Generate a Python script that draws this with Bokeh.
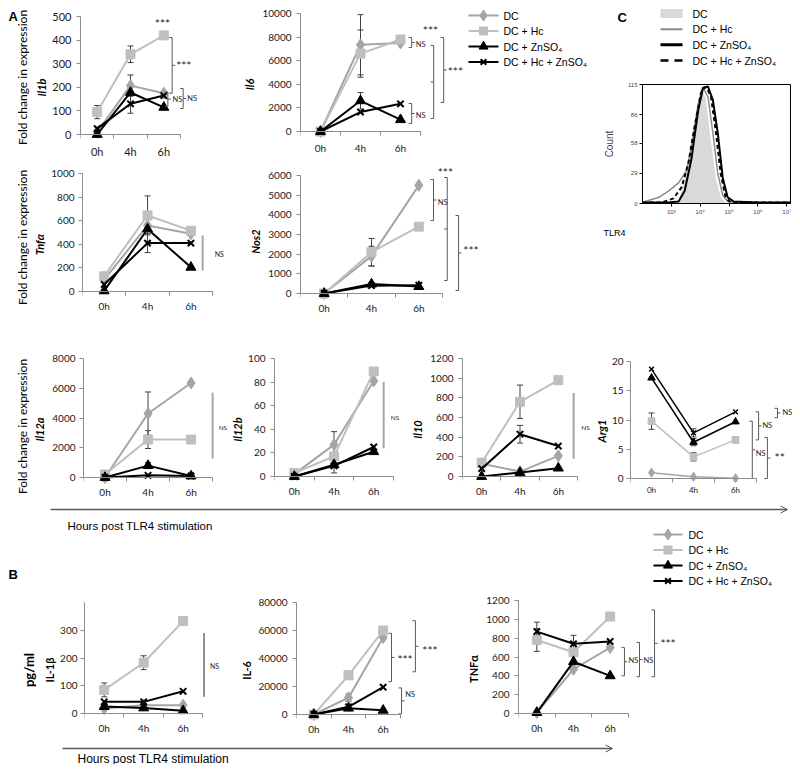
import math
from bokeh.plotting import figure
from bokeh.layouts import row, column
from bokeh.models import (Range1d, FixedTicker, Whisker, TeeHead, ColumnDataSource,
                          Label, Arrow, OpenHead, Spacer, LinearAxis, NumeralTickFormatter)
from bokeh.core.properties import value
from bokeh.embed import file_html
from bokeh.resources import INLINE

# ---------------- data ----------------
TIMES = ["0h", "4h", "6h"]
GROUPS = ["DC", "DC + Hc", "DC + ZnSO\u2084", "DC + Hc + ZnSO\u2084"]

# Panel A: fold change in expression (DC, DC+Hc, DC+ZnSO4, DC+Hc+ZnSO4)
il1b_dc = [10, 207, 175]
il1b_hc = [95, 340, 420]
il1b_zn = [0, 178, 115]
il1b_hczn = [25, 130, 165]
il1b_err = [[0, 45, 0], [28, 35, 0], [0, 0, 0], [0, 40, 0]]
il1b_ticks = [0, 100, 200, 300, 400, 500]

il6_dc = [0, 7350, 7500]
il6_hc = [0, 6600, 7800]
il6_zn = [0, 2600, 1000]
il6_hczn = [0, 1650, 2350]
il6_err = [[0, 2550, 0], [0, 2000, 0], [0, 700, 0], [0, 0, 0]]
il6_ticks = [0, 2000, 4000, 6000, 8000, 10000]

tnfa_dc = [100, 560, 490]
tnfa_hc = [130, 645, 515]
tnfa_zn = [5, 530, 205]
tnfa_hczn = [60, 410, 410]
tnfa_err = [[0, 0, 0], [0, 165, 0], [0, 0, 0], [0, 80, 0]]
tnfa_ticks = [0, 200, 400, 600, 800, 1000]

nos2_dc = [0, 1900, 5500]
nos2_hc = [0, 2100, 3400]
nos2_zn = [0, 480, 350]
nos2_hczn = [0, 400, 420]
nos2_err = [[0, 500, 0], [0, 700, 0], [0, 0, 0], [0, 0, 0]]
nos2_ticks = [0, 1000, 2000, 3000, 4000, 5000, 6000]

il12a_dc = [0, 4300, 6350]
il12a_hc = [200, 2550, 2550]
il12a_zn = [0, 800, 100]
il12a_hczn = [0, 150, 100]
il12a_err = [[0, 1450, 0], [0, 600, 0], [0, 200, 0], [0, 0, 0]]
il12a_ticks = [0, 2000, 4000, 6000, 8000]

il12b_dc = [2, 27, 81]
il12b_hc = [3, 17, 89]
il12b_zn = [0, 10, 21]
il12b_hczn = [0, 9, 25]
il12b_err = [[0, 11, 0], [0, 0, 0], [0, 0, 0], [0, 6, 0]]
il12b_ticks = [0, 20, 40, 60, 80, 100]

il10_dc = [130, 50, 210]
il10_hc = [140, 760, 980]
il10_zn = [0, 40, 85]
il10_hczn = [80, 430, 310]
il10_err = [[0, 0, 0], [40, 170, 0], [0, 0, 0], [0, 90, 0]]
il10_ticks = [0, 200, 400, 600, 800, 1000, 1200]

arg1_dc = [1.0, 0.3, 0.05]
arg1_hc = [9.8, 3.7, 6.6]
arg1_zn = [17.2, 6.2, 9.7]
arg1_hczn = [18.7, 7.8, 11.4]
arg1_err = [[0, 0, 0], [1.4, 0.7, 0], [0, 0.6, 0], [0, 0.7, 0]]
arg1_ticks = [0, 5, 10, 15, 20]

# Panel B: cytokines, pg/ml
il1bp_dc = [18, 30, 30]
il1bp_hc = [85, 183, 333]
il1bp_zn = [25, 20, 10]
il1bp_hczn = [42, 42, 80]
il1bp_err = [[0, 0, 0], [25, 25, 0], [0, 0, 0], [0, 0, 0]]
il1bp_ticks = [0, 100, 200, 300, 400]

il6p_dc = [0, 12000, 55000]
il6p_hc = [0, 28000, 60000]
il6p_zn = [0, 4500, 3000]
il6p_hczn = [0, 5500, 19500]
il6p_err = [[0, 2500, 0], [0, 2000, 0], [0, 0, 0], [0, 0, 0]]
il6p_ticks = [0, 20000, 40000, 60000, 80000]

tnfp_dc = [10, 470, 700]
tnfp_hc = [780, 650, 1030]
tnfp_zn = [10, 550, 400]
tnfp_hczn = [870, 740, 765]
tnfp_err = [[0, 0, 0], [120, 0, 0], [0, 0, 0], [100, 90, 0]]
tnfp_ticks = [0, 200, 400, 600, 800, 1000, 1200]

# Panel C: TLR4 flow histogram (intensity, count)
tlr4_dc_x = [1500, 1778, 2884, 4898, 8511, 10715, 15849, 23442, 34674, 51286, 75858, 90000]
tlr4_dc_y = [0, 3, 22, 58, 100, 113, 100, 61, 25, 6, 1, 0]
tlr4_hc_x = [100, 126, 372, 794, 1778, 3388, 4898, 8511, 12589, 18621, 27542, 40738, 60256, 89125, 13000000]
tlr4_hc_y = [1, 2, 6, 12, 20, 32, 54, 96, 112, 103, 68, 29, 8, 2, 0]
tlr4_zn_x = [100, 126, 794, 1778, 2884, 4898, 8511, 12589, 18621, 27542, 40738, 60256, 89125, 141254, 1000000, 13000000]
tlr4_zn_y = [0.5, 1, 1, 2, 12, 42, 90, 112, 113, 100, 68, 25, 6, 2, 1, 1]
tlr4_hczn_x = [100, 126, 479, 1202, 2291, 3890, 6310, 10715, 15849, 23442, 34674, 51286, 75858, 112202, 13000000]
tlr4_hczn_y = [1, 1, 1, 5, 16, 39, 73, 107, 113, 104, 70, 29, 6, 1, 1]
tlr4_yticks = [0, 29, 58, 86, 115]
tlr4_xticks = [1e3, 1e4, 1e5, 1e6, 1e7]
tlr4_xlabels = ["10\u00b3", "10\u2074", "10\u2075", "10\u2076", "10\u2077"]

# ---------------- styling ----------------
XPOS = [i + 0.5 for i in range(len(TIMES))]
AXIS_GRAY = "#8C8C8C"
TXT = "#1A1A1A"
BR = "#595959"
STYLE = [
    dict(color="#A5A5A5", marker="diamond", size=12),
    dict(color="#BFBFBF", marker="square", size=9),
    dict(color="#000000", marker="triangle", size=10),
    dict(color="#000000", marker="x", size=9),
]


def base_fig(w, h, **kw):
    return figure(width=w, height=h, output_backend="svg", toolbar_location=None,
                  title_location=None, **kw)


def make_panel(outer, frame, ax_end, ytop, ymax, yticks, series, errors, ylabel,
               tick_fs="10px", xtick_fs=None, ylab_fs="11px", ylab_style="bold italic",
               scale=1.0, ylab_standoff=3, tick_standoff=5, xlab_standoff=4):
    ox0, oy0, ox1, oy1 = outer
    L, T, R, B = frame
    pad = min(24, oy1 - B)
    ppx = (ax_end - L) / len(TIMES)
    ppy = (B - ytop) / ymax
    p = base_fig(ox1 - ox0, oy1 - oy0,
                 x_range=Range1d(0, (R - L) / ppx),
                 y_range=Range1d(-pad / ppy, (B - T) / ppy),
                 min_border_left=L - ox0, min_border_right=ox1 - R,
                 min_border_top=T - oy0, min_border_bottom=oy1 - B - pad,
                 outline_line_color=None)
    p.grid.visible = False
    xa = p.xaxis[0]
    xa.fixed_location = 0
    xa.bounds = (0, len(TIMES))
    xa.ticker = FixedTicker(ticks=XPOS, minor_ticks=list(range(len(TIMES) + 1)))
    xa.major_label_overrides = {x: t for x, t in zip(XPOS, TIMES)}
    xa.major_tick_out = 0
    xa.major_tick_in = 0
    xa.minor_tick_out = 4
    xa.minor_tick_in = 0
    xa.axis_line_color = AXIS_GRAY
    xa.minor_tick_line_color = AXIS_GRAY
    xa.major_label_text_font = "Lato"
    xa.major_label_text_font_size = xtick_fs or tick_fs
    xa.major_label_text_color = TXT
    xa.major_label_standoff = xlab_standoff
    ya = p.yaxis[0]
    ya.bounds = (0, ymax)
    ya.ticker = FixedTicker(ticks=yticks, minor_ticks=[])
    ya.formatter = NumeralTickFormatter(format="0")
    ya.major_tick_out = 4
    ya.major_tick_in = 0
    ya.minor_tick_out = 0
    ya.minor_tick_in = 0
    ya.axis_line_color = AXIS_GRAY
    ya.major_tick_line_color = AXIS_GRAY
    ya.major_label_text_font = "Lato"
    ya.major_label_text_font_size = tick_fs
    ya.major_label_text_color = TXT
    ya.major_label_standoff = tick_standoff
    ya.axis_label = ylabel
    ya.axis_label_text_font = "Lato"
    ya.axis_label_text_font_size = ylab_fs
    ya.axis_label_text_font_style = ylab_style
    ya.axis_label_text_color = "black"
    ya.axis_label_standoff = ylab_standoff

    for vals, errs, st in zip(series, errors, STYLE):
        p.line(XPOS, vals, line_color=st["color"], line_width=2 * scale)
        if st["marker"] == "x":
            p.scatter(XPOS, vals, marker="x", size=st["size"] * scale,
                      line_color=st["color"], line_width=2 * scale)
        else:
            p.scatter(XPOS, vals, marker=st["marker"], size=st["size"] * scale,
                      fill_color=st["color"], line_color=st["color"])
        base = [x for x, e in zip(XPOS, errs) if e > 0]
        if base:
            up = [v + e for v, e in zip(vals, errs) if e > 0]
            lo = [v - e for v, e in zip(vals, errs) if e > 0]
            src = ColumnDataSource(dict(base=base, upper=up, lower=lo))
            p.add_layout(Whisker(source=src, base="base", upper="upper", lower="lower",
                                 dimension="height", line_color="#404040", line_width=1,
                                 upper_head=TeeHead(size=6, line_color="#404040", line_width=1),
                                 lower_head=TeeHead(size=6, line_color="#404040", line_width=1)))
    return p, ppx, ppy


def outer_label(p, text, standoff, ymax, fs="12px", style="normal"):
    ax = LinearAxis(axis_label=text, ticker=FixedTicker(ticks=[], minor_ticks=[]),
                    bounds=(0, ymax),
                    axis_line_color=None, major_tick_out=0, major_tick_in=0,
                    minor_tick_out=0, minor_tick_in=0, axis_label_standoff=standoff,
                    axis_label_text_font="Lato", axis_label_text_font_size=fs,
                    axis_label_text_font_style=style, axis_label_text_color="black")
    p.add_layout(ax, "left")


def note(p, x, y, text, size="7.5px", align="left"):
    p.text([x], [y], text=[text], text_font=value("Lato"), text_font_size=value(size),
           text_align=align, text_baseline="middle", text_color="#262626")


def bracket(p, ppx, x, y0, y1, mid=None, text=None, tx=None, ty=None, size="7.5px"):
    t = 3.0 / ppx
    p.line([x - t, x, x, x - t], [y0, y0, y1, y1], line_color=BR, line_width=1)
    ym = (y0 + y1) / 2.0
    if mid == "right":
        p.line([x, x + t], [ym, ym], line_color=BR, line_width=1)
    elif mid == "left":
        p.line([x, x - t], [ym, ym], line_color=BR, line_width=1)
    if text:
        note(p, tx, ty, text, size)


def vline(p, x, y0, y1, color="#A6A6A6", width=2):
    p.line([x, x], [y0, y1], line_color=color, line_width=width)


def ref_fig(x0, y0, x1, y1):
    p = base_fig(x1 - x0, y1 - y0, x_range=Range1d(x0, x1), y_range=Range1d(y1, y0), min_border=0,
                 outline_line_color=None, x_axis_location=None, y_axis_location=None)
    p.grid.visible = False
    return p


def ref_text(p, x, y, text, fs="10.5px", style="normal", baseline="middle", font="Liberation Sans",
             angle=0.0, align="left"):
    p.add_layout(Label(x=x, y=y, text=text, text_font=font, text_font_size=fs,
                       text_font_style=style, text_baseline=baseline, text_align=align,
                       text_color="black", angle=angle))


def draw_marker_legend(p, rows_y, x0, x1, tx):
    xm = (x0 + x1) / 2.0
    for g, st, y in zip(GROUPS, STYLE, rows_y):
        p.line([x0, x1], [y, y], line_color=st["color"], line_width=2)
        if st["marker"] == "x":
            p.scatter([xm], [y], marker="x", size=8, line_color=st["color"], line_width=2)
        else:
            p.scatter([xm], [y], marker=st["marker"], size=st["size"] - 1,
                      fill_color=st["color"], line_color=st["color"])
        ref_text(p, tx, y, g)


def wrap(p):
    return column(p)


# ---------------- left strip of panel A: letter + shared y titles ----------------
strip_a = ref_fig(0, 0, 30, 500)
ref_text(strip_a, 8, 8, "A", fs="13px", style="bold", baseline="top")
for yc in (77, 237, 426):
    ref_text(strip_a, 22, yc, "Fold change in expression", fs="12px", font="Lato",
             angle=math.pi / 2, align="center")

# ---------------- panel A, row 1 ----------------
p_il1b, ppx, ppy = make_panel((30, 8, 220, 160), (80, 16, 220, 134), 180, 16, 500, il1b_ticks,
                              [il1b_dc, il1b_hc, il1b_zn, il1b_hczn], il1b_err, "Il1b",
                              tick_fs="11px", ylab_standoff=1, xlab_standoff=6)
note(p_il1b, 2.46, 470, "***", "12px", "center")
bracket(p_il1b, ppx, 2.75, 411, 175, mid="right", text="***", tx=2.87, ty=292, size="12px")
bracket(p_il1b, ppx, 2.62, 180, 120, mid="right", text="NS", tx=2.76, ty=150)
bracket(p_il1b, ppx, 3.08, 195, 110, mid="right", text="NS", tx=3.2, ty=153)

p_il6, ppx, ppy = make_panel((220, 8, 465, 160), (300, 13, 465, 131), 420, 13, 10000, il6_ticks,
                             [il6_dc, il6_hc, il6_zn, il6_hczn], il6_err, "Il6", xlab_standoff=6)
note(p_il6, 3.25, 8560, "***", "12px", "center")
bracket(p_il6, ppx, 2.78, 7966, 7119, mid="right", text="NS", tx=2.88, ty=7400)
bracket(p_il6, ppx, 3.33, 7288, 1102, mid="left")
bracket(p_il6, ppx, 3.58, 7966, 2458, mid="right", text="***", tx=3.68, ty=5085, size="12px")
bracket(p_il6, ppx, 2.78, 2373, 678, mid="right", text="NS", tx=2.88, ty=1356)

leg_a = ref_fig(465, 8, 600, 80)
draw_marker_legend(leg_a, [15, 30.5, 46, 61.5], 468, 498, 503)

# ---------------- panel A, row 2 ----------------
p_tnfa, ppx, ppy = make_panel((30, 160, 228, 318), (81, 173, 228, 291), 212, 173, 1000, tnfa_ticks,
                              [tnfa_dc, tnfa_hc, tnfa_zn, tnfa_hczn], tnfa_err, "Tnf\u03b1",
                              ylab_standoff=2, tick_standoff=4)
vline(p_tnfa, 2.77, 475, 178)
note(p_tnfa, 3.05, 320, "NS", "7px")

p_nos2, ppx, ppy = make_panel((228, 160, 480, 318), (300, 165, 480, 293), 442, 175, 6000, nos2_ticks,
                              [nos2_dc, nos2_hc, nos2_zn, nos2_hczn], nos2_err, "Nos2")
note(p_nos2, 3.06, 6150, "***", "12px", "center")
bracket(p_nos2, ppx, 2.81, 5797, 3712, mid="right", text="NS", tx=2.9, ty=4627)
bracket(p_nos2, ppx, 3.1, 5898, 661, mid="left")
bracket(p_nos2, ppx, 3.34, 3966, 153, mid="right", text="***", tx=3.44, ty=2186, size="12px")

# ---------------- panel C ----------------
leg_c = ref_fig(600, 8, 792, 75)
ref_text(leg_c, 617, 9, "C", fs="13px", style="bold", baseline="top")
c_rows = [13, 28.7, 44.3, 60]
leg_c.line([660, 682], [c_rows[0], c_rows[0]], line_color="#D9D9D9", line_width=9)
leg_c.line([660, 682], [c_rows[1], c_rows[1]], line_color="#8C8C8C", line_width=2)
leg_c.line([660, 682], [c_rows[2], c_rows[2]], line_color="black", line_width=3)
leg_c.line([660, 682], [c_rows[3], c_rows[3]], line_color="black", line_width=2.5, line_dash="8 6")
for g, y in zip(GROUPS, c_rows):
    ref_text(leg_c, 692, y, g)

flow = base_fig(192, 147, x_axis_type="log", x_range=Range1d(100, 1.35e7), y_range=Range1d(0, 115),
                min_border_left=40, min_border_right=2, min_border_top=9, min_border_bottom=19,
                outline_line_color="black", outline_line_width=1)
flow.grid.visible = False
flow.varea(x=tlr4_dc_x, y1=0, y2=tlr4_dc_y, fill_color="#D9D9D9")
flow.line(tlr4_hc_x, tlr4_hc_y, line_color="#8C8C8C", line_width=1.5)
flow.line(tlr4_zn_x, tlr4_zn_y, line_color="black", line_width=2)
flow.line(tlr4_hczn_x, tlr4_hczn_y, line_color="black", line_width=2, line_dash="4 3")
fx = flow.xaxis[0]
fx.ticker = FixedTicker(ticks=tlr4_xticks, minor_ticks=[])
fx.major_label_overrides = {t: s for t, s in zip(tlr4_xticks, tlr4_xlabels)}
fx.major_tick_out = 3
fx.major_tick_in = 0
fx.major_label_text_font_size = "6px"
fx.major_label_text_font = "Liberation Sans"
fx.major_label_standoff = 2
fy = flow.yaxis[0]
fy.ticker = FixedTicker(ticks=tlr4_yticks, minor_ticks=[])
fy.major_tick_out = 3
fy.major_tick_in = 0
fy.major_label_text_font_size = "6px"
fy.major_label_text_font = "Liberation Sans"
fy.major_label_standoff = 2
fy.axis_label = "Count"
fy.axis_label_text_font = "Liberation Sans"
fy.axis_label_text_font_size = "10px"
fy.axis_label_text_font_style = "normal"
fy.axis_label_standoff = 10

tlr4_fig = ref_fig(600, 222, 792, 240)
ref_text(tlr4_fig, 603, 232, "TLR4", fs="9px")

# ---------------- panel A, row 3 ----------------
p_il12a, ppx, ppy = make_panel((30, 318, 228, 500), (82, 358, 228, 477), 212, 358, 8000, il12a_ticks,
                               [il12a_dc, il12a_hc, il12a_zn, il12a_hczn], il12a_err, "Il12a",
                               tick_standoff=4)
vline(p_il12a, 3.0, 5700, 1280)
note(p_il12a, 3.14, 3350, "NS", "6.5px")

p_il12b, ppx, ppy = make_panel((228, 318, 402, 500), (273, 358, 402, 476), 393, 358, 100, il12b_ticks,
                               [il12b_dc, il12b_hc, il12b_zn, il12b_hczn], il12b_err, "Il12b",
                               ylab_standoff=1)
vline(p_il12b, 2.75, 80, 24)
note(p_il12b, 2.93, 50, "NS", "6.5px")

p_il10, ppx, ppy = make_panel((402, 318, 590, 500), (462, 358, 590, 476), 577, 358, 1200, il10_ticks,
                              [il10_dc, il10_hc, il10_zn, il10_hczn], il10_err, "Il10")
vline(p_il10, 2.9, 850, 180)
note(p_il10, 3.1, 500, "NS", "6.5px")

p_arg1, ppx, ppy = make_panel((590, 318, 792, 500), (630, 361, 792, 478), 756, 361, 20, arg1_ticks,
                              [arg1_dc, arg1_hc, arg1_zn, arg1_hczn], arg1_err, "Arg1",
                              tick_fs="10px", xtick_fs="8px", scale=0.75,
                              ylab_standoff=1, tick_standoff=3, xlab_standoff=2)
bracket(p_arg1, ppx, 3.5, 12.0, 10.4, mid="right", text="NS", tx=3.62, ty=11.2)
bracket(p_arg1, ppx, 3.05, 11.4, 6.6, mid="right", text="NS", tx=3.14, ty=9.0)
bracket(p_arg1, ppx, 2.9, 9.8, 0, mid="right", text="NS", tx=2.98, ty=4.3)
bracket(p_arg1, ppx, 3.26, 7.0, 0, mid="right", text="**", tx=3.43, ty=3.6, size="12px")

# ---------------- arrow A, caption, letter B and legend B ----------------
arrow_a = ref_fig(0, 500, 792, 516)
arrow_a.add_layout(Arrow(x_start=50, y_start=509, x_end=787, y_end=509, line_color="#595959",
                         line_width=1.5, end=OpenHead(size=7, line_color="#595959", line_width=1)))
band_b = ref_fig(0, 516, 792, 590)
ref_text(band_b, 67, 525, "Hours post TLR4 stimulation", fs="11.5px")
ref_text(band_b, 8, 566, "B", fs="13px", style="bold", baseline="top")
draw_marker_legend(band_b, [534, 549.5, 565, 580.5], 653, 682, 688)

# ---------------- panel B ----------------
p_il1bp, ppx, ppy = make_panel((17, 590, 228, 740), (82, 602, 228, 713), 202, 602, 400, il1bp_ticks,
                               [il1bp_dc, il1bp_hc, il1bp_zn, il1bp_hczn], il1bp_err,
                               "IL-1\u03b2", ylab_style="bold", ylab_standoff=1, tick_standoff=3)
outer_label(p_il1bp, "pg/ml", 4, 400, fs="13px", style="bold")
vline(p_il1bp, 3.03, 290, 60, color="#262626", width=1)
note(p_il1bp, 3.18, 170, "NS", "7px")

p_il6p, ppx, ppy = make_panel((228, 590, 448, 740), (296, 602, 448, 714), 400, 602, 80000, il6p_ticks,
                              [il6p_dc, il6p_hc, il6p_zn, il6p_hczn], il6p_err,
                              "IL-6", ylab_style="bold", ylab_standoff=2)
bracket(p_il6p, ppx, 2.74, 58000, 23500, mid="right", text="***", tx=2.91, ty=39000, size="12px")
bracket(p_il6p, ppx, 3.03, 19000, 500, mid="right", text="NS", tx=3.14, ty=14000)
bracket(p_il6p, ppx, 3.43, 67000, 30500, mid="right", text="***", tx=3.63, ty=46000, size="12px")

p_tnfp, ppx, ppy = make_panel((448, 590, 792, 740), (518, 600, 792, 713), 628, 600, 1200, tnfp_ticks,
                              [tnfp_dc, tnfp_hc, tnfp_zn, tnfp_hczn], tnfp_err,
                              "TNF\u03b1", ylab_style="bold")
bracket(p_tnfp, ppx, 2.89, 700, 400, mid="right", text="NS", tx=3.0, ty=560)
bracket(p_tnfp, ppx, 3.3, 755, 390, mid="right", text="NS", tx=3.41, ty=560)
bracket(p_tnfp, ppx, 3.71, 1100, 390, mid="right", text="***", tx=3.87, ty=740, size="12px")

arrow_b = ref_fig(0, 740, 792, 764)
arrow_b.add_layout(Arrow(x_start=62, y_start=748, x_end=612, y_end=748, line_color="#595959",
                         line_width=1.5, end=OpenHead(size=7, line_color="#595959", line_width=1)))
ref_text(arrow_b, 77, 758, "Hours post TLR4 stimulation", fs="12px")

# ---------------- layout (each plot wrapped so frames are not re-aligned) ----------------
top_left = column(
    row(wrap(p_il1b), wrap(p_il6), column(wrap(leg_a), Spacer(width=135, height=80))),
    row(wrap(p_tnfa), wrap(p_nos2), Spacer(width=120, height=158)),
)
top_right = column(wrap(leg_c), wrap(flow), wrap(tlr4_fig), Spacer(width=192, height=78))
top = row(top_left, top_right)
mid = row(wrap(p_il12a), wrap(p_il12b), wrap(p_il10), wrap(p_arg1))
upper = row(wrap(strip_a), column(Spacer(width=762, height=8), top, mid))
sec_b = row(Spacer(width=17, height=150), wrap(p_il1bp), wrap(p_il6p), wrap(p_tnfp))
page = column(upper, wrap(arrow_a), wrap(band_b), sec_b, wrap(arrow_b))

open("out.html", "w").write(file_html(page, INLINE))
